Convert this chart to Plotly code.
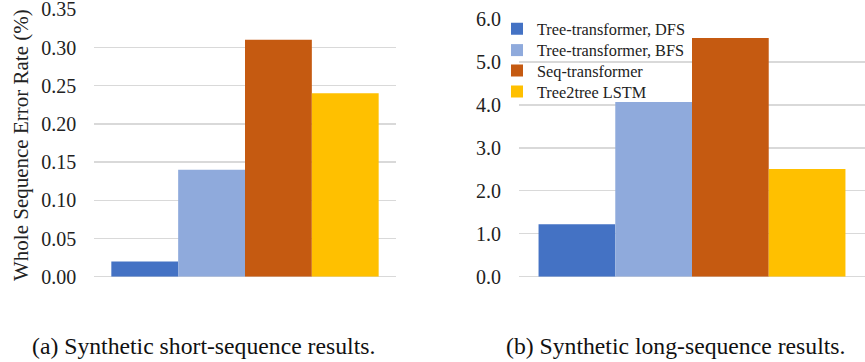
import plotly.graph_objects as go

# ---- data ----
series_names = ["Tree-transformer, DFS", "Tree-transformer, BFS", "Seq-transformer", "Tree2tree LSTM"]
series_colors = ["#4472C4", "#8FAADC", "#C55A11", "#FFC000"]
short_values = [0.02, 0.14, 0.31, 0.24]
long_values = [1.22, 4.07, 5.56, 2.51]
short_ticks = [0.00, 0.05, 0.10, 0.15, 0.20, 0.25, 0.30, 0.35]
long_ticks = [0.0, 1.0, 2.0, 3.0, 4.0, 5.0, 6.0]
category = ["Synthetic"]
y_title = "Whole Sequence Error Rate (%)"
caption_a = "(a) Synthetic short-sequence results."
caption_b = "(b) Synthetic long-sequence results."

W, H = 865, 362
FONT = "Liberation Serif"
legend_ids = ["legend", "legend2", "legend3", "legend4"]
legend_centers_px = [29.2, 50.5, 71, 91.8]

fig = go.Figure()
for i, name in enumerate(series_names):
    fig.add_trace(go.Bar(x=category, y=[short_values[i]], name=name, marker_color=series_colors[i],
                         marker_line_width=0, xaxis="x", yaxis="y", showlegend=False))
for i, name in enumerate(series_names):
    fig.add_trace(go.Bar(x=category, y=[long_values[i]], name=name, marker_color=series_colors[i],
                         marker_line_width=0, xaxis="x2", yaxis="y2", showlegend=True,
                         legend=legend_ids[i]))

def px_x(p):
    return p / W

def px_y(p):
    return 1 - p / H

grid = dict(showgrid=True, gridcolor="#D9D9D9", gridwidth=1.3, zeroline=True, zerolinecolor="#D9D9D9",
            zerolinewidth=1.3, showline=False, ticks="", ticklabelstandoff=17, automargin=False,
            ticklabeloverflow="allow",
            tickfont=dict(family=FONT, size=20, color="#222222"), fixedrange=True)

legends = {}
for i, lid in enumerate(legend_ids):
    legends[lid] = dict(x=px_x(497), y=px_y(legend_centers_px[i]), xanchor="left", yanchor="middle",
                        bgcolor="rgba(0,0,0,0)", borderwidth=0,
                        font=dict(family=FONT, size=16.3, color="#222222"), itemwidth=30)

fig.update_layout(
    template="none",
    width=W, height=H,
    margin=dict(l=0, r=0, t=0, b=0, autoexpand=False),
    paper_bgcolor="white", plot_bgcolor="white",
    barmode="group", bargap=0.113, bargroupgap=0,
    font=dict(family=FONT, color="#222222"),
    xaxis=dict(domain=[px_x(94.3), px_x(395.7)], showticklabels=False, showgrid=False, zeroline=False,
               showline=False, ticks="", anchor="y", fixedrange=True, automargin=False),
    xaxis2=dict(domain=[px_x(519), 1.0], showticklabels=False, showgrid=False, zeroline=False,
                showline=False, ticks="", anchor="y2", fixedrange=True, automargin=False),
    yaxis=dict(domain=[px_y(276.7), px_y(9.3)], range=[0, 0.35001], tickvals=short_ticks,
               tickformat=".2f", anchor="x", **grid),
    yaxis2=dict(domain=[px_y(276.7), px_y(19)], range=[0, 6.0001], tickvals=long_ticks,
                tickformat=".1f", anchor="x2", **grid),
    annotations=[
        dict(text=y_title, textangle=-90, x=px_x(21), y=px_y(145), xref="paper", yref="paper",
             showarrow=False, font=dict(family=FONT, size=21, color="#222222"),
             xanchor="center", yanchor="middle"),
        dict(text=caption_a, x=px_x(203), y=px_y(346), xref="paper", yref="paper", showarrow=False,
             font=dict(family=FONT, size=23.7, color="#111111"), xanchor="center", yanchor="middle"),
        dict(text=caption_b, x=px_x(675), y=px_y(346), xref="paper", yref="paper", showarrow=False,
             font=dict(family=FONT, size=23.7, color="#111111"), xanchor="center", yanchor="middle"),
    ],
    **legends,
)

fig.write_html(
    "out.html",
    config={"displayModeBar": False, "staticPlot": True},
    post_script="document.body.style.margin='0';document.body.style.padding='0';"
                "document.body.style.overflow='hidden';",
)
